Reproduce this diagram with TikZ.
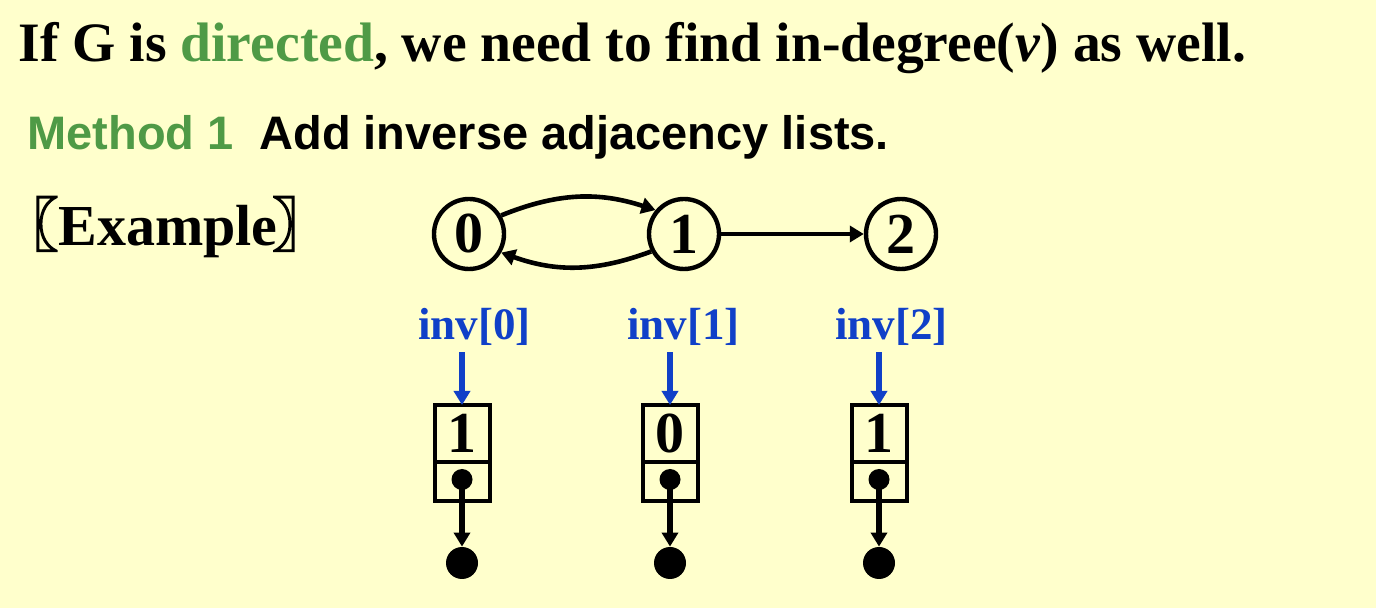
\documentclass[tikz,border=0pt]{standalone}
\usepackage{fontspec}
\setmainfont{Liberation Serif}
\newfontfamily\arialfont{Liberation Sans}
\newfontfamily\cjkfont[FakeBold=2.5]{Noto Sans CJK SC}
\usetikzlibrary{arrows.meta, positioning, calc}
\usepackage{xcolor}
\definecolor{SlideBack}{HTML}{FFFFCC}
\definecolor{SlideGreen}{HTML}{4F9A46}
\definecolor{SlideBlue}{HTML}{1040C8}
\definecolor{SlideBlack}{HTML}{000000}
\tikzset{
    % vertex of the graph
    vertex/.style={
        circle,
        draw=SlideBlack,
        line width=2.2pt,
        minimum size=35pt,
        inner sep=0pt,
        font=\fontsize{29}{30}\selectfont\bfseries
    },
    % list cells
    datacell/.style={
        rectangle,
        draw=SlideBlack,
        line width=2pt,
        outer sep=0pt,
        minimum width=27.5pt,
        minimum height=28.5pt,
        inner sep=0pt,
        font=\fontsize{29}{30}\selectfont\bfseries
    },
    linkcell/.style={
        rectangle,
        draw=SlideBlack,
        line width=2pt,
        outer sep=0pt,
        minimum width=27.5pt,
        minimum height=19.5pt,
        inner sep=0pt
    },
    smalldot/.style={circle, fill=SlideBlack, minimum size=10.5pt, inner sep=0pt},
    nulldot/.style={circle, fill=SlideBlack, minimum size=16pt, inner sep=0pt},
    invlabel/.style={
        anchor=base west,
        inner sep=0pt,
        text=SlideBlue,
        font=\fontsize{22.5}{24}\selectfont\bfseries
    },
    % arrow styles
    arrow/.style={
        -{Triangle[length=7pt,width=8pt]},
        line width=2.3pt,
        draw=SlideBlack
    },
    invarrow/.style={
        -{Triangle[length=7pt,width=8pt]},
        line width=2.6pt,
        draw=SlideBlue
    },
    linkarrow/.style={
        -{Triangle[length=7pt,width=8pt]},
        line width=2.6pt,
        draw=SlideBlack
    }
}

\begin{document}
\begin{tikzpicture}[x=0.5pt, y=0.5pt]
    \fill[SlideBack] (0,0) rectangle (1376,-608);
    \useasboundingbox (0,0) rectangle (1376,-608);

    % text lines
    \node[anchor=base west, inner sep=0pt, font=\fontsize{27.8}{32}\selectfont\bfseries] (title) at (18,-62)
        {If G is \textcolor{SlideGreen}{directed}, we need to find in-degree(\textit{v}) as well.};
    \node[anchor=base west, inner sep=0pt, font=\arialfont\fontsize{23.5}{27}\selectfont\bfseries] (method) at (27,-150)
        {\textcolor{SlideGreen}{Method 1}\hspace{0.55em}Add inverse adjacency lists.};
    \node[anchor=base west, inner sep=0pt, font=\fontsize{29}{34}\selectfont\bfseries] (example) at (0,-246)
        {{\cjkfont 〖}Example\kern-2.5pt{\cjkfont 〗}};

    % graph
    \node[vertex] (v0) at (469,-234) {0};
    \node[vertex] (v1) at (684,-234) {1};
    \node[vertex] (v2) at (901,-234) {2};

    \draw[arrow] (v0.30) to[bend left=20] (v1.140);
    \draw[arrow] (v1.208) to[bend left=20] (v0.330);
    \draw[arrow] (v1) -- (v2);

    % inverse lists
    \node[invlabel] (inv0) at (418,-340) {inv[0]};
    \node[invlabel] (inv1) at (627,-340) {inv[1]};
    \node[invlabel] (inv2) at (835,-340) {inv[2]};

    \node[datacell] (d0) at (462,-433.5) {1};
    \node[datacell] (d1) at (670,-433.5) {0};
    \node[datacell] (d2) at (879,-433.5) {1};

    \node[linkcell, below=0pt of d0] (l0) {};
    \node[linkcell, below=0pt of d1] (l1) {};
    \node[linkcell, below=0pt of d2] (l2) {};

    \node[smalldot] (s0) at ($(l0.center)+(0,2)$) {};
    \node[smalldot] (s1) at ($(l1.center)+(0,2)$) {};
    \node[smalldot] (s2) at ($(l2.center)+(0,2)$) {};

    \node[nulldot] (n0) at (462,-563) {};
    \node[nulldot] (n1) at (670,-563) {};
    \node[nulldot] (n2) at (879,-563) {};

    \draw[invarrow] ($(d0.north |- inv0.south)+(0,-6)$) -- (d0.north);
    \draw[invarrow] ($(d1.north |- inv1.south)+(0,-6)$) -- (d1.north);
    \draw[invarrow] ($(d2.north |- inv2.south)+(0,-6)$) -- (d2.north);

    \draw[linkarrow] (s0.center) -- (n0.north);
    \draw[linkarrow] (s1.center) -- (n1.north);
    \draw[linkarrow] (s2.center) -- (n2.north);
\end{tikzpicture}
\end{document}
